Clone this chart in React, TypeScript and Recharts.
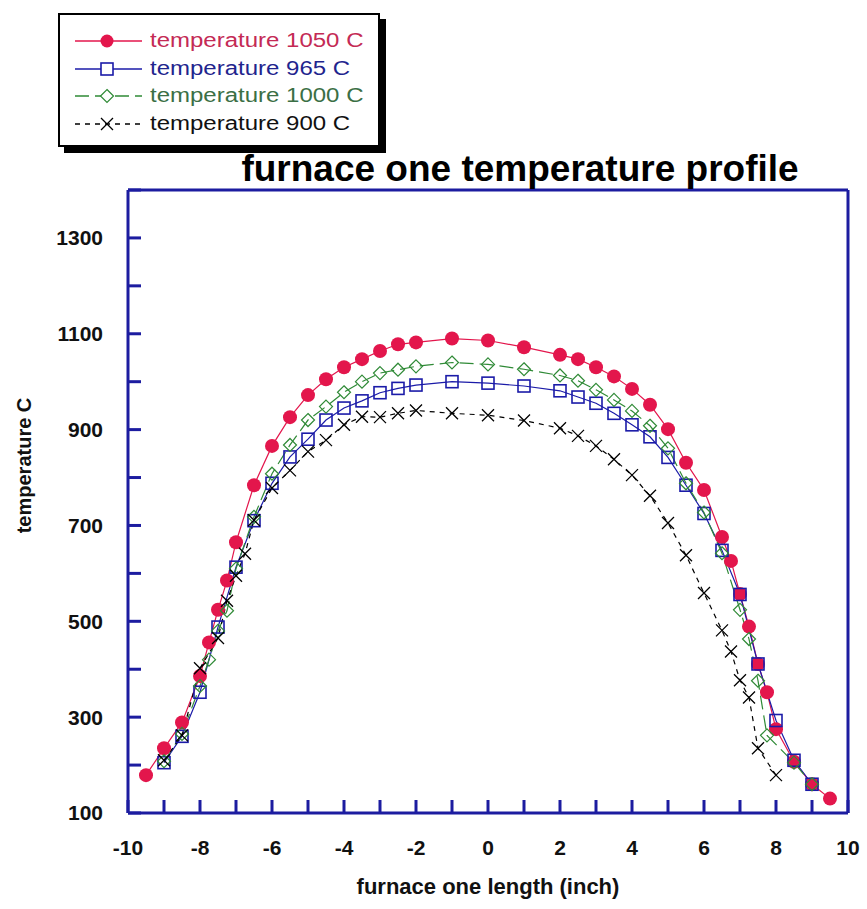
import { CartesianGrid, Line, LineChart, XAxis, YAxis } from "recharts";

// positions along the furnace (inch) and measured temperatures (C)
const redX = [-9.5, -9, -8.5, -8, -7.75, -7.5, -7.25, -7, -6.5, -6, -5.5, -5, -4.5, -4, -3.5, -3, -2.5, -2, -1, 0, 1, 2, 2.5, 3, 3.5, 4, 4.5, 5, 5.5, 6, 6.5, 6.75, 7, 7.25, 7.5, 7.75, 8, 8.5, 9, 9.5];
const redY = [179, 235, 289, 386, 456, 524, 585, 665, 784, 866, 926, 972, 1005, 1030, 1047, 1064, 1078, 1082, 1090, 1086, 1072, 1056, 1047, 1030, 1011, 985, 952, 901, 831, 774, 676, 626, 557, 489, 411, 352, 275, 207, 160, 130];

const blueX = [-9, -8.5, -8, -7.5, -7, -6.5, -6, -5.5, -5, -4.5, -4, -3.5, -3, -2.5, -2, -1, 0, 1, 2, 2.5, 3, 3.5, 4, 4.5, 5, 5.5, 6, 6.5, 7, 7.5, 8, 8.5, 9];
const blueY = [205, 260, 352, 488, 613, 710, 788, 843, 880, 920, 945, 960, 977, 986, 993, 1000, 997, 991, 981, 968, 955, 934, 910, 885, 842, 784, 725, 648, 556, 411, 293, 210, 160];

const greenX = [-9, -8.5, -8, -7.75, -7.5, -7.25, -7, -6.5, -6, -5.5, -5, -4.5, -4, -3.5, -3, -2.5, -2, -1, 0, 1, 2, 2.5, 3, 3.5, 4, 4.5, 5, 5.5, 6, 6.5, 7, 7.25, 7.5, 7.75, 8.5, 9];
const greenY = [208, 265, 365, 420, 480, 522, 610, 718, 808, 868, 920, 948, 978, 1000, 1018, 1025, 1032, 1040, 1036, 1026, 1013, 1002, 983, 962, 939, 908, 861, 788, 727, 642, 524, 463, 376, 262, 205, 160];

const blackX = [-9, -8.5, -8, -7.5, -7.25, -7, -6.75, -6.5, -6, -5.5, -5, -4.5, -4, -3.5, -3, -2.5, -2, -1, 0, 1, 2, 2.5, 3, 3.5, 4, 4.5, 5, 5.5, 6, 6.5, 6.75, 7, 7.25, 7.5, 8];
const blackY = [210, 262, 402, 465, 543, 595, 641, 711, 778, 815, 854, 878, 910, 927, 926, 934, 940, 934, 930, 919, 903, 887, 866, 838, 805, 762, 705, 638, 559, 481, 437, 377, 341, 235, 179];

const xTicks = [-10, -9, -8, -7, -6, -5, -4, -3, -2, -1, 0, 1, 2, 3, 4, 5, 6, 7, 8, 9, 10];
const yTicks = [100, 200, 300, 400, 500, 600, 700, 800, 900, 1000, 1100, 1200, 1300, 1400];

const RED = "#e3164c";
const BLUE = "#1b1ba8";
const GREEN = "#2f8a36";
const FRAME = "#1c1ca0";
const FONT = "'Liberation Sans', Arial, sans-serif";
const TICK = 13;
const GAP = 20;

const toPoints = (xs: number[], ys: number[]) => xs.map((x, i) => ({ x, t: ys[i] }));

const SquareDot = (p: any) =>
  p.cx == null ? null : (
    <rect key={`s${p.index}`} x={p.cx - 6} y={p.cy - 6} width={12} height={12} fill="none" stroke={BLUE} strokeWidth={1.6} />
  );

const DiamondDot = (p: any) =>
  p.cx == null ? null : (
    <path
      key={`d${p.index}`}
      d={`M${p.cx},${p.cy - 6.5}L${p.cx + 6.5},${p.cy}L${p.cx},${p.cy + 6.5}L${p.cx - 6.5},${p.cy}Z`}
      fill="none"
      stroke={GREEN}
      strokeWidth={1.2}
    />
  );

const CrossDot = (p: any) =>
  p.cx == null ? null : (
    <path
      key={`x${p.index}`}
      d={`M${p.cx - 6},${p.cy - 6}L${p.cx + 6},${p.cy + 6}M${p.cx - 6},${p.cy + 6}L${p.cx + 6},${p.cy - 6}`}
      stroke="#000"
      strokeWidth={1.3}
      fill="none"
    />
  );

const labelStyle = { fontSize: 21, fontWeight: 700, fill: "#111", fontFamily: FONT };

// ticks point into the plot, like the original frame
const BottomTick = (p: any) => {
  const axisY = p.y - GAP;
  const v = p.payload.value;
  return (
    <g>
      <line x1={p.x} y1={axisY} x2={p.x} y2={axisY - TICK} stroke={FRAME} strokeWidth={3} />
      {v % 2 === 0 && (
        <text x={p.x} y={axisY + 27} dy="0.71em" textAnchor="middle" {...labelStyle}>
          {v}
        </text>
      )}
    </g>
  );
};

const TopTick = (p: any) => {
  const axisY = p.y + GAP;
  return <line x1={p.x} y1={axisY} x2={p.x} y2={axisY + TICK} stroke={FRAME} strokeWidth={3} />;
};

const LeftTick = (p: any) => {
  const axisX = p.x + GAP;
  const v = p.payload.value;
  return (
    <g>
      <line x1={axisX} y1={p.y} x2={axisX + TICK} y2={p.y} stroke={FRAME} strokeWidth={3} />
      {v % 200 === 100 && (
        <text x={axisX - 25} y={p.y} dy="0.355em" textAnchor="end" {...labelStyle}>
          {v}
        </text>
      )}
    </g>
  );
};

const RightTick = (p: any) => {
  const axisX = p.x - GAP;
  return <line x1={axisX} y1={p.y} x2={axisX - TICK} y2={p.y} stroke={FRAME} strokeWidth={3} />;
};

const axisLine = { stroke: FRAME, strokeWidth: 3 };

const legendRows = [
  { label: "temperature 1050 C", color: "#c42a55", line: RED, dash: undefined, mark: "circle" },
  { label: "temperature 965 C", color: "#1f258e", line: BLUE, dash: undefined, mark: "square" },
  { label: "temperature 1000 C", color: "#3b6f45", line: GREEN, dash: "14 6", mark: "diamond" },
  { label: "temperature 900 C", color: "#111", line: "#000", dash: "5 5", mark: "cross" },
];

function LegendMark({ mark, color }: { mark: string; color: string }) {
  if (mark === "circle") return <circle cx={35} cy={10} r={6.5} fill={RED} />;
  if (mark === "square") return <rect x={29} y={4} width={12} height={12} fill="#fff" stroke={BLUE} strokeWidth={1.6} />;
  if (mark === "diamond") return <path d="M35,3.5L41.5,10L35,16.5L28.5,10Z" fill="#fff" stroke={GREEN} strokeWidth={1.2} />;
  return <path d="M29,4L41,16M29,16L41,4" stroke={color} strokeWidth={1.3} fill="none" />;
}

export default function App() {
  return (
    <div style={{ position: "absolute", left: 0, top: 0, width: 867, height: 909, background: "#fff" }}>
      <LineChart width={867} height={909} margin={{ top: 180, right: 9, bottom: 16, left: 8 }}>
        <CartesianGrid stroke="none" fill="#fff" />
        <XAxis
          xAxisId="bottom"
          type="number"
          dataKey="x"
          domain={[-10, 10]}
          ticks={xTicks}
          interval={0}
          height={80}
          axisLine={axisLine}
          tickLine={false}
          tickSize={0}
          tickMargin={GAP}
          tick={BottomTick}
          label={(props: any) => {
            const vb = props.viewBox;
            return (
              <text x={vb.x + vb.width / 2} y={vb.y + 73} textAnchor="middle" dominantBaseline="central" fontSize={22} fontWeight={700} fontFamily={FONT} fill="#111">
                furnace one length (inch)
              </text>
            );
          }}
        />
        <XAxis
          xAxisId="top"
          orientation="top"
          type="number"
          dataKey="x"
          domain={[-10, 10]}
          ticks={xTicks}
          interval={0}
          height={10}
          axisLine={axisLine}
          tickLine={false}
          tickSize={0}
          tickMargin={GAP}
          tick={TopTick}
        />
        <YAxis
          yAxisId="left"
          type="number"
          domain={[100, 1400]}
          ticks={yTicks}
          interval={0}
          width={120}
          axisLine={axisLine}
          tickLine={false}
          tickSize={0}
          tickMargin={GAP}
          tick={LeftTick}
          label={(props: any) => {
            const vb = props.viewBox;
            const cx = vb.x + 16;
            const cy = vb.y + vb.height / 2 - 36;
            return (
              <text x={cx} y={cy} transform={`rotate(-90, ${cx}, ${cy})`} textAnchor="middle" dominantBaseline="central" fontSize={20} fontWeight={700} fontFamily={FONT} fill="#111">
                temperature C
              </text>
            );
          }}
        />
        <YAxis
          yAxisId="right"
          orientation="right"
          type="number"
          domain={[100, 1400]}
          ticks={yTicks}
          interval={0}
          width={10}
          axisLine={axisLine}
          tickLine={false}
          tickSize={0}
          tickMargin={GAP}
          tick={RightTick}
        />
        <Line
          xAxisId="bottom"
          yAxisId="left"
          data={toPoints(redX, redY)}
          dataKey="t"
          type="linear"
          stroke={RED}
          strokeWidth={1.2}
          dot={{ r: 7, fill: RED, stroke: RED, strokeWidth: 0 }}
          isAnimationActive={false}
        />
        <Line
          xAxisId="bottom"
          yAxisId="left"
          data={toPoints(blueX, blueY)}
          dataKey="t"
          type="linear"
          stroke={BLUE}
          strokeWidth={1.2}
          dot={SquareDot}
          isAnimationActive={false}
        />
        <Line
          xAxisId="bottom"
          yAxisId="left"
          data={toPoints(greenX, greenY)}
          dataKey="t"
          type="linear"
          stroke={GREEN}
          strokeWidth={1.2}
          strokeDasharray="14 6"
          dot={DiamondDot}
          isAnimationActive={false}
        />
        <Line
          xAxisId="bottom"
          yAxisId="left"
          data={toPoints(blackX, blackY)}
          dataKey="t"
          type="linear"
          stroke="#000"
          strokeWidth={1.2}
          strokeDasharray="5 5"
          dot={CrossDot}
          isAnimationActive={false}
        />
      </LineChart>

      <div
        style={{
          position: "absolute",
          left: 220,
          top: 150,
          width: 600,
          textAlign: "center",
          fontFamily: FONT,
          fontWeight: 700,
          fontSize: 37,
          lineHeight: "37px",
          color: "#000",
        }}
      >
        furnace one temperature profile
      </div>

      <div
        style={{
          position: "absolute",
          left: 58,
          top: 13,
          width: 322,
          height: 134,
          border: "2px solid #000",
          boxShadow: "6px 6px 0 #000",
          background: "#fff",
          paddingTop: 12,
          boxSizing: "border-box",
        }}
      >
        {legendRows.map((r) => (
          <div key={r.label} style={{ position: "relative", height: 27.7 }}>
            <svg width={90} height={20} style={{ position: "absolute", left: 12, top: 4 }}>
              <line x1={3} y1={10} x2={70} y2={10} stroke={r.line} strokeWidth={1.3} strokeDasharray={r.dash} />
              <LegendMark mark={r.mark} color={r.line} />
            </svg>
            <span
              style={{
                position: "absolute",
                left: 90,
                top: 1,
                fontFamily: FONT,
                fontSize: 20,
                lineHeight: "24px",
                color: r.color,
                whiteSpace: "nowrap",
                transform: "scaleX(1.2)",
                transformOrigin: "left center",
              }}
            >
              {r.label}
            </span>
          </div>
        ))}
      </div>
    </div>
  );
}
